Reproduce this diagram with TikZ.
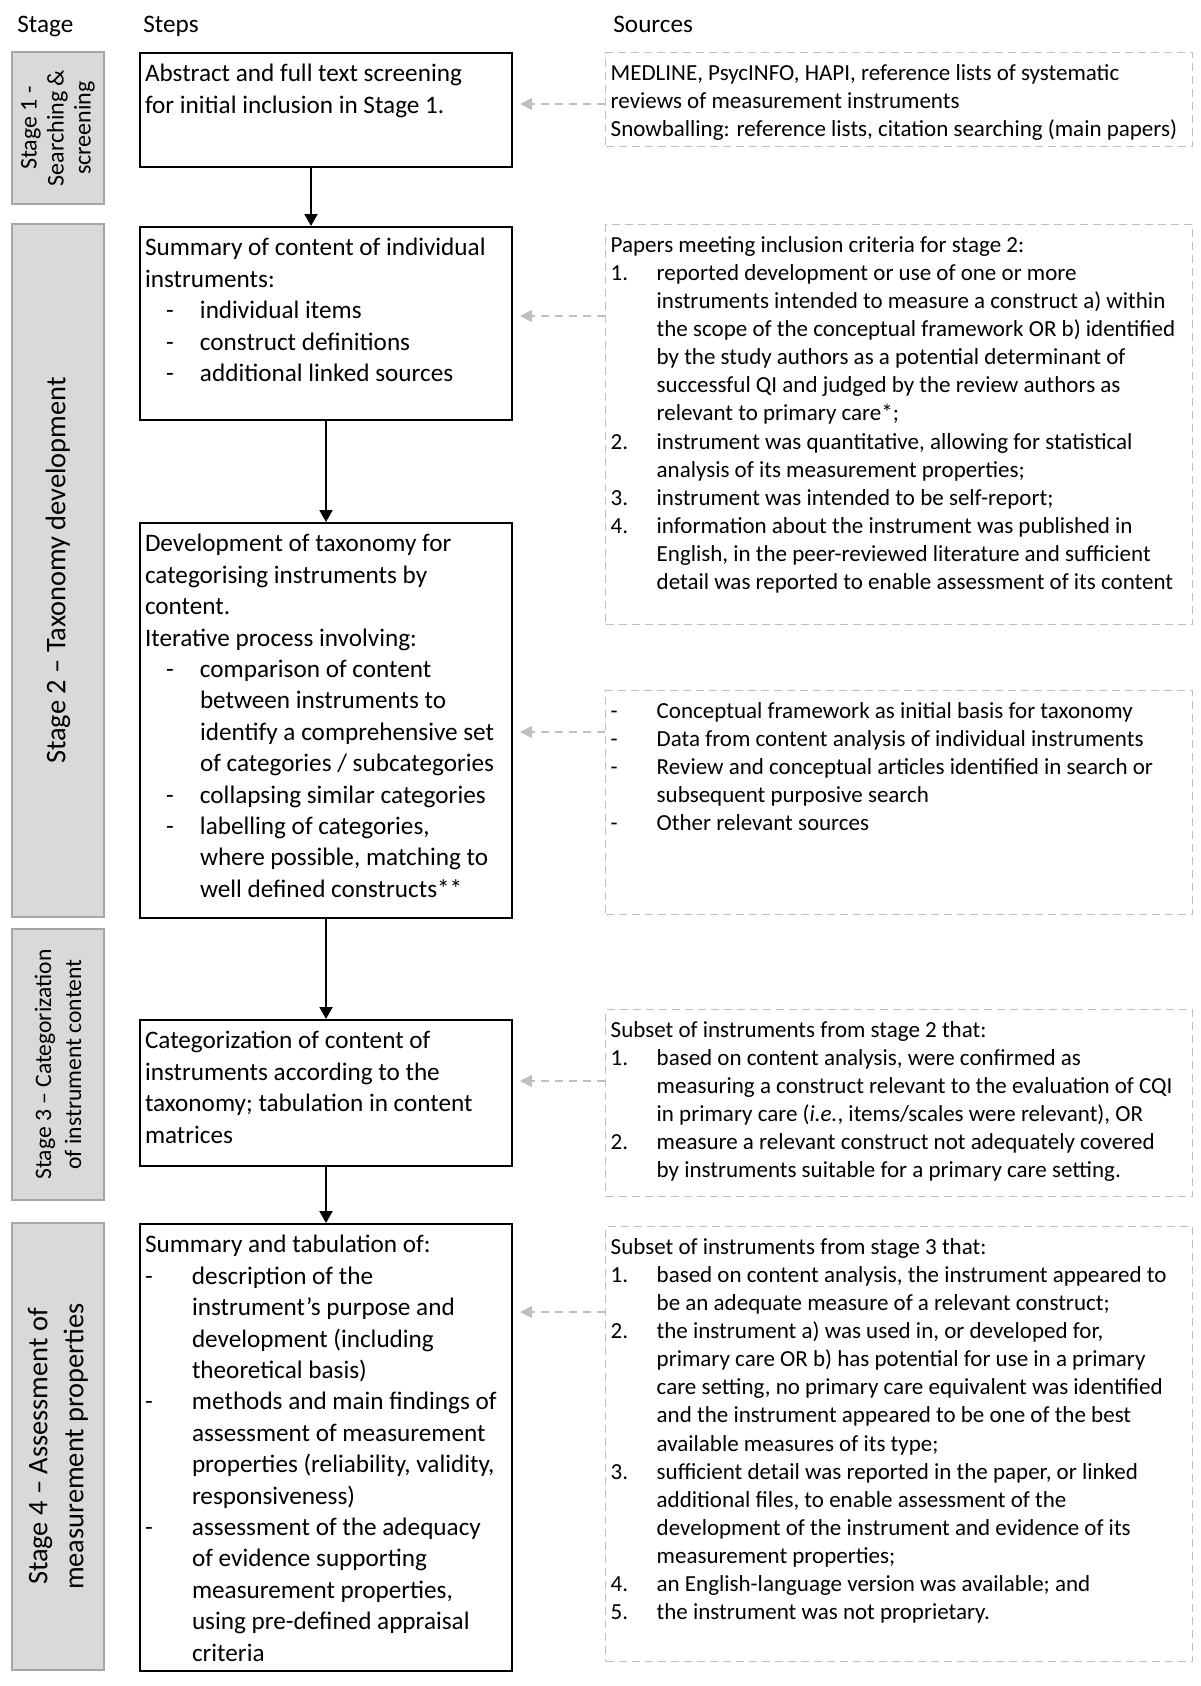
\documentclass[tikz,border=0pt]{standalone}
\usepackage{fontspec}
\setmainfont{Carlito}
\usetikzlibrary{arrows.meta}

\newcommand{\stepfont}{\fontsize{12.6}{15.7}\selectfont}
\newcommand{\srcfont}{\fontsize{11.5}{14.05}\selectfont}
% fixed size text block, text at the top
\newcommand{\topbox}[3]{\parbox[t][#2][t]{#1}{\raggedright\strut#3}}
\newcommand{\indash}{\hspace*{10.5pt}\makebox[17pt][l]{-}}
\newcommand{\inpad}{\hspace*{27.5pt}}
\newcommand{\mdash}{\makebox[23.5pt][l]{-}}
\newcommand{\mpad}{\hspace*{23.5pt}}
\newcommand{\nlab}[1]{\makebox[23pt][l]{#1}}
\newcommand{\npad}{\hspace*{23pt}}

\tikzset{
  stepbox/.style={draw, line width=1pt, anchor=north west, inner xsep=2.5pt, inner ysep=3.5pt, font=\stepfont},
  srcbox/.style={draw=gray!50, line width=0.7pt, dash pattern=on 4pt off 2.5pt, anchor=north west, inner xsep=2.5pt, inner ysep=4pt, font=\srcfont},
  stagebox/.style={draw=gray!70, fill=gray!30, line width=0.8pt, rotate=90, minimum height=46pt, inner sep=0pt, align=center},
  flow/.style={line width=1pt, -{Triangle[length=6pt,width=6.5pt]}},
  feed/.style={draw=gray!50, line width=0.9pt, dash pattern=on 4pt off 3pt, -{Triangle[length=6pt,width=6pt]}, shorten >=3.5pt},
  head/.style={anchor=base west, inner sep=0pt, font=\fontsize{12.6}{15}\selectfont}
}

\begin{document}
\begin{tikzpicture}[x=1pt,y=-1pt]
\useasboundingbox (0,0) rectangle (600,843);

% column heads
\node[head] (stagehd) at (8.5,16.5) {Stage};
\node[head] (stepshd) at (71.5,16.5) {Steps};
\node[head] (srchd) at (306.5,16.5) {Sources};

% stages
\node[stagebox, minimum width=76pt, font=\fontsize{12}{13.5}\selectfont]
  (stage1) at (29,64) {Stage 1 -\\Searching \&\\screening};
\node[stagebox, minimum width=346.5pt, font=\fontsize{14.2}{17.3}\selectfont]
  (stage2) at (29,285.25) {Stage 2 – Taxonomy development};
\node[stagebox, minimum width=135.5pt, font=\fontsize{11.8}{15}\selectfont]
  (stage3) at (29,532.25) {Stage 3 – Categorization\\of instrument content};
\node[stagebox, minimum width=223.5pt, font=\fontsize{14.2}{18}\selectfont]
  (stage4) at (29,723.25) {Stage 4 – Assessment of\\measurement properties};

% steps
\node[stepbox] (step1) at (69.5,26) {\topbox{181pt}{50pt}{%
  Abstract and full text screening\\
  for initial inclusion in Stage 1.}};
\node[stepbox] (step2) at (69.5,113) {\topbox{181pt}{89.5pt}{%
  Summary of content of individual\\
  instruments:\\
  \indash individual items\\
  \indash construct definitions\\
  \indash additional linked sources}};
\node[stepbox] (step3) at (69.5,261) {\topbox{181pt}{190.5pt}{%
  Development of taxonomy for\\
  categorising instruments by\\
  content.\\
  Iterative process involving:\\
  \indash comparison of content\\
  \inpad between instruments to\\
  \inpad identify a comprehensive set\\
  \inpad of categories / subcategories\\
  \indash collapsing similar categories\\
  \indash labelling of categories,\\
  \inpad where possible, matching to\\
  \inpad well defined constructs**}};
\node[stepbox] (step4) at (69.5,509.5) {\topbox{181pt}{66pt}{%
  Categorization of content of\\
  instruments according to the\\
  taxonomy; tabulation in content\\
  matrices}};
\node[stepbox] (step5) at (69.5,611.5) {\topbox{181pt}{216.5pt}{%
  Summary and tabulation of:\\
  \mdash description of the\\
  \mpad instrument’s purpose and\\
  \mpad development (including\\
  \mpad theoretical basis)\\
  \mdash methods and main findings of\\
  \mpad assessment of measurement\\
  \mpad properties (reliability, validity,\\
  \mpad responsiveness)\\
  \mdash assessment of the adequacy\\
  \mpad of evidence supporting\\
  \mpad measurement properties,\\
  \mpad using pre-defined appraisal\\
  \mpad criteria}};

% sources
\node[srcbox] (src1) at (302.5,26) {\topbox{288.5pt}{39pt}{%
  MEDLINE, PsycINFO, HAPI, reference lists of systematic\\
  reviews of measurement instruments\\
  Snowballing: reference lists, citation searching (main papers)}};
\node[srcbox] (src2) at (302.5,112) {\topbox{288.5pt}{192pt}{%
  Papers meeting inclusion criteria for stage 2:\\
  \nlab{1.}reported development or use of one or more\\
  \npad instruments intended to measure a construct a) within\\
  \npad the scope of the conceptual framework OR b) identified\\
  \npad by the study authors as a potential determinant of\\
  \npad successful QI and judged by the review authors as\\
  \npad relevant to primary care*;\\
  \nlab{2.}instrument was quantitative, allowing for statistical\\
  \npad analysis of its measurement properties;\\
  \nlab{3.}instrument was intended to be self-report;\\
  \nlab{4.}information about the instrument was published in\\
  \npad English, in the peer-reviewed literature and sufficient\\
  \npad detail was reported to enable assessment of its content}};
\node[srcbox] (src3) at (302.5,345) {\topbox{288.5pt}{104pt}{%
  \nlab{-}Conceptual framework as initial basis for taxonomy\\
  \nlab{-}Data from content analysis of individual instruments\\
  \nlab{-}Review and conceptual articles identified in search or\\
  \npad subsequent purposive search\\
  \nlab{-}Other relevant sources}};
\node[srcbox] (src4) at (302.5,504.5) {\topbox{288.5pt}{85.5pt}{%
  Subset of instruments from stage 2 that:\\
  \nlab{1.}based on content analysis, were confirmed as\\
  \npad measuring a construct relevant to the evaluation of CQI\\
  \npad in primary care (\textit{i.e.}, items/scales were relevant), OR\\
  \nlab{2.}measure a relevant construct not adequately covered\\
  \npad by instruments suitable for a primary care setting.}};
\node[srcbox] (src5) at (302.5,613) {\topbox{288.5pt}{209.5pt}{%
  Subset of instruments from stage 3 that:\\
  \nlab{1.}based on content analysis, the instrument appeared to\\
  \npad be an adequate measure of a relevant construct;\\
  \nlab{2.}the instrument a) was used in, or developed for,\\
  \npad primary care OR b) has potential for use in a primary\\
  \npad care setting, no primary care equivalent was identified\\
  \npad and the instrument appeared to be one of the best\\
  \npad available measures of its type;\\
  \nlab{3.}sufficient detail was reported in the paper, or linked\\
  \npad additional files, to enable assessment of the\\
  \npad development of the instrument and evidence of its\\
  \npad measurement properties;\\
  \nlab{4.}an English-language version was available; and\\
  \nlab{5.}the instrument was not proprietary.}};

% flow between steps
\draw[flow] ([xshift=-7.5pt]step1.south) -- ([xshift=-7.5pt]step2.north);
\draw[flow] (step2) -- (step3);
\draw[flow] (step3) -- (step4);
\draw[flow] (step4) -- (step5);

% sources feeding the steps
\coordinate (t1) at (0,52);
\coordinate (t2) at (0,158);
\coordinate (t3) at (0,366);
\coordinate (t4) at (0,540.5);
\coordinate (t5) at (0,656);
\foreach \i in {1,...,5}
  \draw[feed] (src\i.west |- t\i) -- (step\i.east |- t\i);
\end{tikzpicture}
\end{document}
